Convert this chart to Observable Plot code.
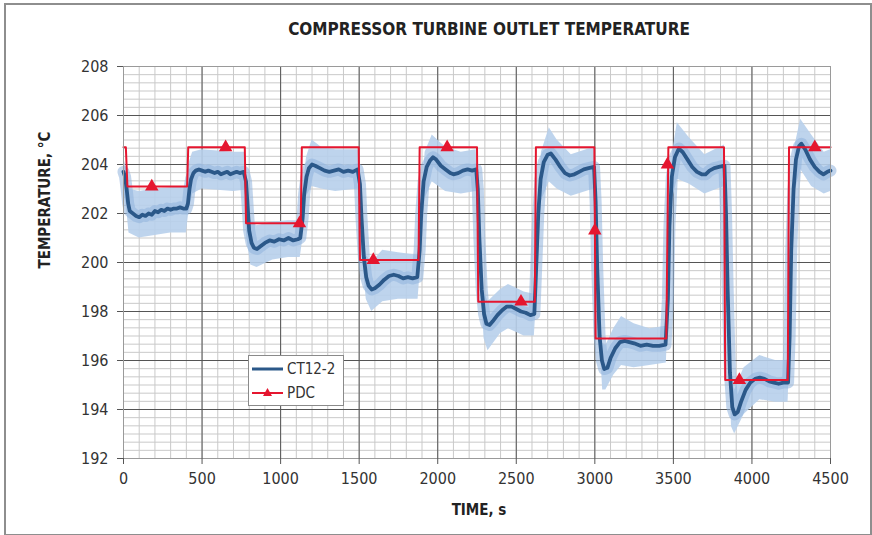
<!DOCTYPE html>
<html>
<head>
<meta charset="utf-8">
<script src="https://cdn.jsdelivr.net/npm/d3@7"></script>
<script src="https://cdn.jsdelivr.net/npm/@observablehq/plot@0.6"></script>
<style>
  html, body { margin: 0; padding: 0; background: #fff; }
  #wrap { position: relative; width: 872px; height: 535px; overflow: hidden; background: #fff; }
  #border { position: absolute; left: 4px; top: 3px; width: 864px; height: 529px; border: 2px solid #8e8e8e; box-sizing: content-box; pointer-events: none; }
  #legend { position: absolute; left: 248px; top: 355px; width: 94px; height: 49px; border: 1px solid #8a8a8a; background: #fff; }
  #legend svg { position: absolute; left: 0; top: 0; }
  svg text { font-stretch: condensed; }
</style>
</head>
<body>
<div id="wrap"></div>
<script>
// ---------- data ----------
const xTicks = [0, 500, 1000, 1500, 2000, 2500, 3000, 3500, 4000, 4500];
const yTicks = [192, 194, 196, 198, 200, 202, 204, 206, 208];
const seriesNames = ["CT12-2", "PDC"];

const ctTime = [0,10,20,30,40,60,80,100,120,140,160,180,200,220,240,260,280,300,320,340,360,380,400,
  410,420,430,445,460,480,500,520,540,560,580,600,620,640,660,680,700,720,740,765,
  780,790,800,815,830,850,870,900,930,960,990,1020,1050,1080,1110,1125,
  1140,1150,1165,1180,1200,1220,1250,1280,1310,1340,1370,1400,1430,1460,1490,
  1505,1515,1530,1545,1560,1580,1600,1630,1660,1690,1720,1750,1780,1810,1840,1870,
  1885,1895,1910,1930,1950,1970,1990,2020,2050,2080,2100,2130,2160,2190,2220,2245,
  2255,2265,2280,2295,2310,2330,2350,2380,2410,2440,2470,2500,2530,2560,2590,2615,
  2625,2640,2655,2675,2700,2720,2750,2780,2810,2840,2870,2900,2930,2960,2995,
  3005,3015,3030,3045,3060,3080,3100,3130,3160,3190,3220,3250,3290,3330,3370,3410,3450,
  3465,3475,3490,3510,3535,3560,3590,3620,3650,3680,3705,3730,3760,3790,3825,
  3835,3845,3860,3875,3890,3910,3930,3960,3990,4020,4050,4080,4110,4140,4170,4200,4230,
  4240,4250,4265,4280,4300,4315,4340,4370,4400,4430,4455,4480,4500];
const ctTemp = [203.7,203.5,203.0,202.4,202.1,202.0,201.9,201.85,201.95,201.9,202.0,201.95,202.1,202.05,202.15,202.1,202.2,202.15,202.2,202.2,202.25,202.2,202.2,
  202.4,203.0,203.4,203.65,203.75,203.8,203.75,203.7,203.75,203.7,203.65,203.7,203.6,203.65,203.7,203.6,203.65,203.7,203.65,203.7,
  203.3,202.3,201.3,200.8,200.6,200.55,200.65,200.8,200.9,200.85,200.95,200.9,201.0,200.9,200.95,201.0,
  201.8,202.8,203.5,203.85,204.0,203.95,203.85,203.75,203.7,203.75,203.8,203.7,203.75,203.7,203.8,
  203.2,201.8,200.2,199.4,199.05,198.9,198.95,199.1,199.3,199.45,199.5,199.45,199.35,199.4,199.35,199.4,
  200.5,202.0,203.3,203.9,204.15,204.3,204.2,203.95,203.8,203.65,203.6,203.65,203.75,203.8,203.75,203.8,
  203.0,201.0,198.9,197.9,197.5,197.45,197.6,197.85,198.05,198.2,198.2,198.1,198.0,197.95,197.85,197.9,
  199.5,202.0,203.4,204.1,204.4,204.45,204.2,203.9,203.65,203.55,203.6,203.7,203.8,203.85,203.9,
  202.5,199.8,197.0,196.0,195.65,195.7,196.1,196.5,196.75,196.8,196.75,196.7,196.6,196.65,196.6,196.6,196.65,
  198.5,201.5,203.5,204.3,204.65,204.5,204.2,203.9,203.7,203.6,203.6,203.75,203.85,203.9,203.95,
  202.0,199.0,195.5,194.1,193.8,193.9,194.3,194.8,195.1,195.25,195.3,195.25,195.15,195.1,195.05,195.1,195.1,
  197.0,200.5,203.0,204.2,204.75,204.85,204.6,204.2,203.9,203.7,203.6,203.7,203.75];

// CT12-2 uncertainty band
const bandTime = [0,20,35,100,200,300,400,415,440,500,600,700,770,785,810,850,950,1050,1125,
  1140,1165,1200,1260,1350,1495,1510,1545,1580,1650,1750,1875,1890,1920,1965,2050,2150,2245,
  2260,2295,2320,2400,2450,2550,2615,2630,2660,2710,2760,2850,2995,3010,3050,3070,3120,3170,3250,3350,3455,
  3470,3495,3525,3600,3700,3825,3840,3870,3890,3950,4050,4150,4230,4245,4275,4310,4380,4460,4500];
const bandHi = [204.3,203.8,203.0,202.9,203.0,203.05,203.1,204.0,204.5,204.6,204.55,204.5,204.5,203.0,201.7,201.5,201.65,201.7,201.7,
  202.8,204.3,205.0,204.7,204.6,204.6,202.8,200.3,200.0,200.5,200.4,200.3,201.8,204.5,205.2,204.7,204.5,204.6,
  202.5,198.8,198.4,198.9,199.1,198.8,198.7,200.8,204.5,205.5,205.0,204.4,204.7,201.5,196.7,196.6,197.3,197.8,197.5,197.3,197.4,
  200.5,204.5,205.7,205.1,204.4,204.8,200.5,195.2,194.8,195.7,196.2,196.0,196.0,199.5,204.8,205.85,205.2,204.5,204.6];
const bandLo = [203.0,202.2,201.2,201.0,201.1,201.2,201.2,202.0,202.8,203.0,202.95,202.9,202.95,201.0,199.9,199.8,200.1,200.2,200.2,
  200.9,202.7,203.1,203.0,202.9,203.0,201.0,198.5,198.0,198.4,198.5,198.5,199.8,202.6,203.3,202.9,202.8,202.9,
  200.6,196.9,196.4,197.1,197.3,197.0,197.0,198.6,202.5,203.3,203.0,202.7,203.0,199.5,194.8,194.8,195.4,195.8,195.7,195.8,195.9,
  198.2,202.6,203.4,203.2,202.8,203.1,198.5,193.3,193.0,193.8,194.4,194.3,194.3,197.0,202.9,203.8,203.1,202.8,202.9];

// PDC prediction (step profile)
const pdcTime = [0,15,25,405,412,772,780,1128,1135,1497,1505,1878,1885,2250,2258,2618,2625,2997,3005,3455,3468,3822,3830,4228,4236,4500];
const pdcTemp = [204.7,204.7,203.1,203.1,204.7,204.7,201.6,201.6,204.7,204.7,200.1,200.1,204.7,204.7,198.4,198.4,204.7,204.7,196.9,196.9,204.7,204.7,195.2,195.2,204.7,204.7];
// PDC marker points
const markerTime = [180,650,1120,1590,2060,2530,3000,3462,3920,4400];
const markerTemp = [203.1,204.7,201.6,200.1,204.7,198.4,201.3,204.0,195.2,204.7];

// ---------- tables ----------
const ct = ctTime.map((t,i) => ({t, v: ctTemp[i]}));
const band = bandTime.map((t,i) => ({t, lo: bandLo[i], hi: bandHi[i]}));
const pdc = pdcTime.map((t,i) => ({t, v: pdcTemp[i]}));
const markers = markerTime.map((t,i) => ({t, v: markerTemp[i]}));

const xMinor = d3.range(0, 4501, 100);
const yMinor = d3.range(0, 49).map(i => 192 + i/3);

const RED = "#e5162f", BLUE = "#2b5889";
const FONT = "DejaVu Sans";

const chart = Plot.plot({
  width: 872, height: 535,
  marginLeft: 123, marginRight: 42, marginTop: 66, marginBottom: 77,
  style: {fontFamily: FONT, fontSize: "16px", color: "#333", background: "transparent"},
  x: {domain: [0, 4500], label: null},
  y: {domain: [192, 208], label: null},
  marks: [
    Plot.gridX(xMinor, {stroke: "#c9c9c9", strokeOpacity: 1}),
    Plot.gridY(yMinor, {stroke: "#c9c9c9", strokeOpacity: 1}),
    Plot.gridX(xTicks.slice(0, -1), {stroke: "#555", strokeOpacity: 1}),
    Plot.gridY(yTicks.slice(0, -1), {stroke: "#555", strokeOpacity: 1}),
    Plot.areaY(band, {x: "t", y1: "lo", y2: "hi", fill: "#b7cfeb", fillOpacity: 0.9, curve: "linear"}),
    Plot.line(ct, {x: "t", y: "v", stroke: "#8fb2dc", strokeWidth: 12, strokeOpacity: 0.55, strokeLinejoin: "round"}),
    Plot.line(ct, {x: "t", y: "v", stroke: BLUE, strokeWidth: 3.8, strokeLinejoin: "round"}),
    Plot.line(pdc, {x: "t", y: "v", stroke: RED, strokeWidth: 2}),
    Plot.dot(markers, {x: "t", y: "v", symbol: "triangle", fill: RED, r: 5}),
    Plot.frame({stroke: "#9a9a9a"}),
    Plot.axisX(xTicks, {tickSize: 6, tickPadding: 8, stroke: "#555", fontSize: 16, fill: "#333", tickFormat: d => String(d)}),
    Plot.axisY(yTicks, {tickSize: 6, tickPadding: 9, stroke: "#555", fontSize: 16, fill: "#333", tickFormat: d => String(d)}),
    Plot.text(["COMPRESSOR TURBINE OUTLET TEMPERATURE"], {frameAnchor: "top", dx: 12, dy: -37, lineAnchor: "middle",
      fontWeight: "bold", fontSize: 17, fill: "#222"}),
    Plot.text(["TEMPERATURE, °C"], {frameAnchor: "left", dx: -78, dy: 6, rotate: -90, lineAnchor: "middle",
      fontWeight: "bold", fontSize: 15, fill: "#222"}),
    Plot.text(["TIME, s"], {frameAnchor: "bottom", dx: 2, dy: 52, lineAnchor: "middle",
      fontWeight: "bold", fontSize: 15, fill: "#222"})
  ]
});

const wrap = document.getElementById("wrap");
wrap.appendChild(chart);
chart.style.position = "absolute";
chart.style.left = "0px";
chart.style.top = "0px";

const border = document.createElement("div");
border.id = "border";
wrap.appendChild(border);

// legend
const legend = document.createElement("div");
legend.id = "legend";
legend.innerHTML = `
<svg width="94" height="49">
  <line x1="3" x2="34" y1="13" y2="13" stroke="${BLUE}" stroke-width="3"/>
  <line x1="3" x2="34" y1="37" y2="37" stroke="${RED}" stroke-width="2"/>
  <path d="M18.5,32 L23,40 L14,40 Z" fill="${RED}"/>
  <text x="38" y="13" dy="0.35em" font-family="${FONT}" font-size="15" fill="#333">${seriesNames[0]}</text>
  <text x="38" y="37" dy="0.35em" font-family="${FONT}" font-size="15" fill="#333">${seriesNames[1]}</text>
</svg>`;
wrap.appendChild(legend);
</script>
</body>
</html>
